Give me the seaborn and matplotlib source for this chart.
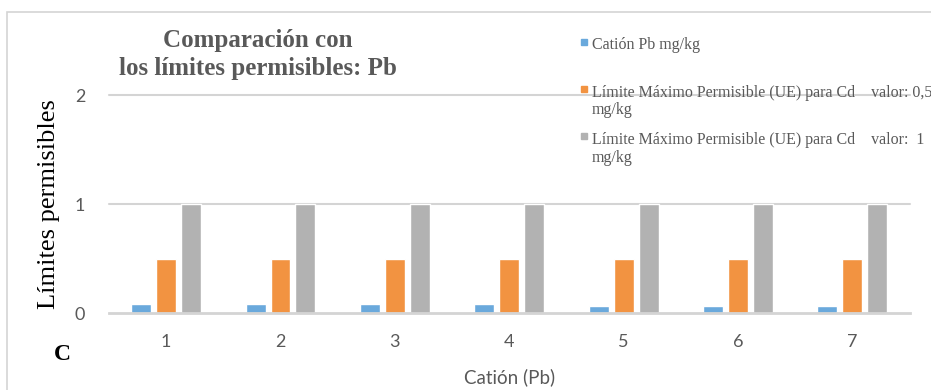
import matplotlib
matplotlib.use("Agg")
import matplotlib.pyplot as plt
import matplotlib.patches as mpatches
import pandas as pd
import seaborn as sns

# Sample numbers and measured/limit values
muestras = ["1", "2", "3", "4", "5", "6", "7"]
cation_pb = [0.08, 0.08, 0.08, 0.08, 0.07, 0.07, 0.07]
limite_05 = [0.5, 0.5, 0.5, 0.5, 0.5, 0.5, 0.5]
limite_1 = [1, 1, 1, 1, 1, 1, 1]

series = [
    "Catión Pb mg/kg",
    "Límite Máximo Permisible (UE) para Cd    valor: 0,5\nmg/kg",
    "Límite Máximo Permisible (UE) para Cd    valor:  1\nmg/kg",
]
colores = ["#6AA9DC", "#F29341", "#B2B2B2"]
y_ticks = [0, 1, 2]

df = pd.DataFrame({
    "muestra": muestras * 3,
    "serie": [series[0]] * 7 + [series[1]] * 7 + [series[2]] * 7,
    "valor": cation_pb + limite_05 + limite_1,
})

sns.set_theme(style="white")
serif = ["Liberation Serif", "DejaVu Serif"]
sans = ["Lato", "DejaVu Sans"]
gris_txt = "#595959"
gris_linea = "#D4D4D4"

fig = plt.figure(figsize=(9.31, 3.90), dpi=100)
ax = fig.add_axes([0.117, 0.197, 0.860, 0.559])

sns.barplot(data=df, x="muestra", y="valor", hue="serie", order=muestras,
            hue_order=series, palette=colores, width=0.655, gap=0.2,
            saturation=1, legend=False, ax=ax, zorder=3)

# Horizontal gridlines behind the bars
for t in y_ticks[1:]:
    ax.axhline(t, color=gris_linea, linewidth=1.5, zorder=1, clip_on=False)

ax.set_ylim(0, 2)
ax.set_yticks(y_ticks)
ax.set_yticklabels([str(t) for t in y_ticks])
ax.set_xlim(-0.5, len(muestras) - 0.5)
for s in ["top", "right", "left"]:
    ax.spines[s].set_visible(False)
ax.spines["bottom"].set_color(gris_linea)
ax.spines["bottom"].set_linewidth(2)
ax.spines["bottom"].set_zorder(4)
ax.tick_params(axis="both", length=0, labelsize=13, colors=gris_txt)
ax.tick_params(axis="y", pad=17)
ax.tick_params(axis="x", pad=15)
for lab in ax.get_xticklabels() + ax.get_yticklabels():
    lab.set_family(sans)

ax.set_xlabel("Catión (Pb)", fontsize=13.5, color=gris_txt, family=sans, labelpad=13)
ax.set_ylabel("Límites permisibles", fontsize=19, color="black", family=serif, labelpad=11)

# Chart title
fig.text(0.277, 0.86, "Comparación con\nlos límites permisibles: Pb",
         ha="center", va="center", fontsize=18, fontweight="bold",
         color=gris_txt, family=serif, linespacing=1.3)

# Panel letter
fig.text(0.067, 0.09, "C", ha="center", va="center", fontsize=17,
         fontweight="bold", color="black", family=serif)

# Legend entries
leg_y = [0.893, 0.772, 0.651]
for nombre, color, yy in zip(series, colores, leg_y):
    fig.patches.append(mpatches.Rectangle((0.6245, yy - 0.008), 0.0065, 0.0155,
                                          transform=fig.transFigure,
                                          color=color, figure=fig))
    fig.text(0.6355, yy + 0.011, nombre, ha="left", va="top", fontsize=11.5,
             color=gris_txt, family=serif, linespacing=1.15)

# Chart border
fig.patches.append(mpatches.Rectangle((0.008, -0.05), 1.2, 1.019,
                                      transform=fig.transFigure, fill=False,
                                      edgecolor=gris_linea, linewidth=1.2, figure=fig))

fig.savefig("out.png", dpi=100)
